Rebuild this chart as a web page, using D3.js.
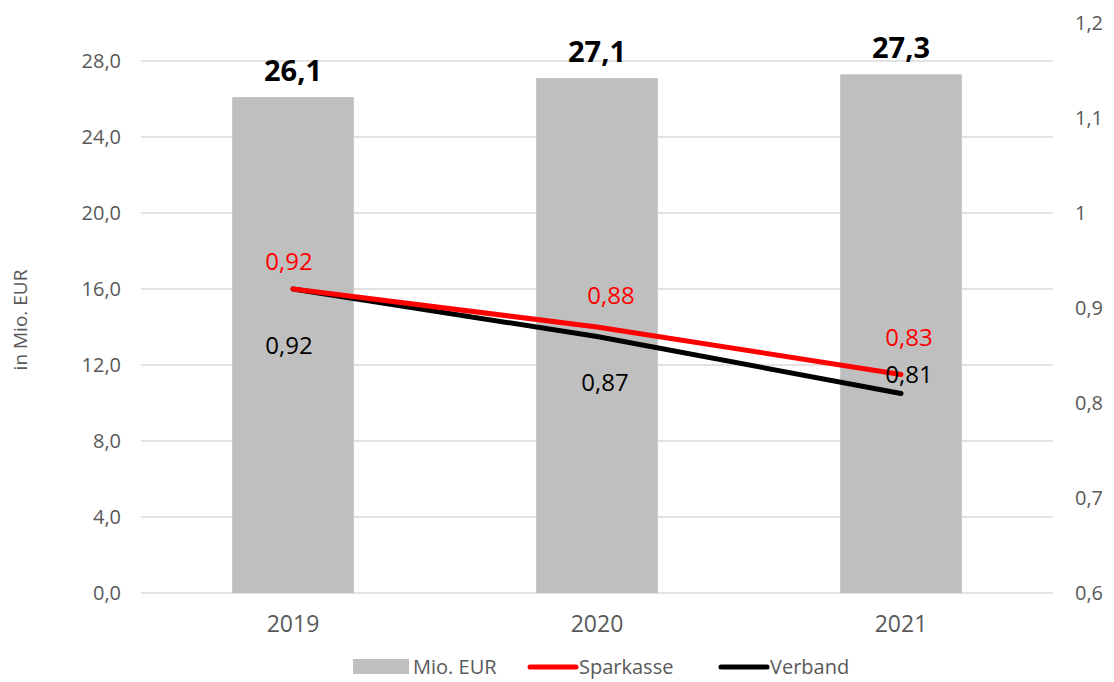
<!DOCTYPE html>
<html>
<head>
<meta charset="utf-8">
<script src="https://cdn.jsdelivr.net/npm/d3@7"></script>
<style>
  body { margin: 0; background: #fff; }
  svg { font-family: "Open Sans", "Noto Sans", sans-serif; }
</style>
</head>
<body>
<svg width="1114" height="682"></svg>
<script>
"use strict";

const years = ["2019", "2020", "2021"];
const mioEur = [26.1, 27.1, 27.3];
const sparkasse = [0.92, 0.88, 0.83];
const verband = [0.92, 0.87, 0.81];
const leftTicks = [0, 4, 8, 12, 16, 20, 24, 28];
const rightTicks = [0.6, 0.7, 0.8, 0.9, 1.0, 1.1, 1.2];

const plotLeft = 141, plotRight = 1053, plotTop = 23, plotBottom = 593;
const svg = d3.select("svg");
const fmt = v => d3.format(".1f")(v).replace(".", ",");
const fmt2 = v => d3.format(".2f")(v).replace(".", ",");
const fmtR = v => String(+v.toFixed(1)).replace(".", ",");

const x = d3.scaleBand().domain(years).range([plotLeft, plotRight]).paddingInner(0.6).paddingOuter(0.3);
const yL = d3.scaleLinear().domain([0, 30]).range([plotBottom, plotTop]);
const yR = d3.scaleLinear().domain([0.6, 1.2]).range([plotBottom, plotTop]);
const cx = d => x(d) + x.bandwidth() / 2;

// gridlines
svg.append("g").selectAll("line")
    .data(leftTicks)
    .join("line")
    .attr("x1", plotLeft).attr("x2", plotRight)
    .attr("y1", d => yL(d)).attr("y2", d => yL(d))
    .attr("stroke", "#d9d9d9").attr("stroke-width", 1.5);

function styleAxis(g, size) {
    g.attr("font-family", null).attr("font-size", null);
    g.select(".domain").remove();
    g.selectAll("text").attr("font-size", size).attr("fill", "#595959");
}

// left axis
svg.append("g")
    .attr("transform", `translate(${plotLeft},0)`)
    .call(d3.axisLeft(yL).tickValues(leftTicks).tickFormat(fmt).tickSize(0).tickPadding(20))
    .call(g => styleAxis(g, 20));

// right axis
svg.append("g")
    .attr("transform", `translate(${plotRight},0)`)
    .call(d3.axisRight(yR).tickValues(rightTicks).tickFormat(fmtR).tickSize(0).tickPadding(22))
    .call(g => styleAxis(g, 20));

// x axis
svg.append("g")
    .attr("transform", `translate(0,${plotBottom})`)
    .call(d3.axisBottom(x).tickSize(0).tickPadding(23))
    .call(g => styleAxis(g, 23));

// y title
svg.append("text")
    .attr("transform", `translate(27,${(plotTop + plotBottom) / 2 + 12}) rotate(-90)`)
    .attr("text-anchor", "middle")
    .attr("font-size", 19).attr("fill", "#595959")
    .text("in Mio. EUR");

// bars
svg.append("g").selectAll("rect")
    .data(years)
    .join("rect")
    .attr("x", d => x(d))
    .attr("width", x.bandwidth())
    .attr("y", (d, i) => yL(mioEur[i]))
    .attr("height", (d, i) => yL(0) - yL(mioEur[i]))
    .attr("fill", "#bfbfbf");

svg.append("g").selectAll("text")
    .data(years)
    .join("text")
    .attr("x", d => cx(d))
    .attr("y", (d, i) => yL(mioEur[i]) - 16)
    .attr("text-anchor", "middle")
    .attr("font-size", 29).attr("font-weight", "bold").attr("fill", "#000")
    .text((d, i) => fmt(mioEur[i]));

// lines
const line = vals => d3.line().x((d, i) => cx(years[i])).y(d => yR(d))(vals);
svg.append("path").attr("d", line(verband))
    .attr("fill", "none").attr("stroke", "#000").attr("stroke-width", 5).attr("stroke-linecap", "round");
svg.append("path").attr("d", line(sparkasse))
    .attr("fill", "none").attr("stroke", "#ff0000").attr("stroke-width", 5).attr("stroke-linecap", "round");

// line labels
const redOff = [[-4, -19], [14, -23], [8, -29]];
const blackOff = [[-4, 65], [8, 54], [8, -11]];
svg.append("g").selectAll("text")
    .data(sparkasse)
    .join("text")
    .attr("x", (d, i) => cx(years[i]) + redOff[i][0])
    .attr("y", (d, i) => yR(d) + redOff[i][1])
    .attr("text-anchor", "middle")
    .attr("font-size", 24).attr("fill", "#ff0000")
    .text(fmt2);
svg.append("g").selectAll("text")
    .data(verband)
    .join("text")
    .attr("x", (d, i) => cx(years[i]) + blackOff[i][0])
    .attr("y", (d, i) => yR(d) + blackOff[i][1])
    .attr("text-anchor", "middle")
    .attr("font-size", 24).attr("fill", "#000")
    .text(fmt2);

// legend
const lg = svg.append("g").attr("font-size", 20).attr("fill", "#595959");
lg.append("rect").attr("x", 353).attr("y", 659).attr("width", 56).attr("height", 15).attr("fill", "#bfbfbf");
lg.append("text").attr("x", 413).attr("y", 674).text("Mio. EUR");
lg.append("line").attr("x1", 530).attr("x2", 576).attr("y1", 667).attr("y2", 667)
    .attr("stroke", "#ff0000").attr("stroke-width", 5).attr("stroke-linecap", "round");
lg.append("text").attr("x", 579).attr("y", 674).text("Sparkasse");
lg.append("line").attr("x1", 721).attr("x2", 767).attr("y1", 667).attr("y2", 667)
    .attr("stroke", "#000").attr("stroke-width", 5).attr("stroke-linecap", "round");
lg.append("text").attr("x", 770).attr("y", 674).text("Verband");
</script>
</body>
</html>
